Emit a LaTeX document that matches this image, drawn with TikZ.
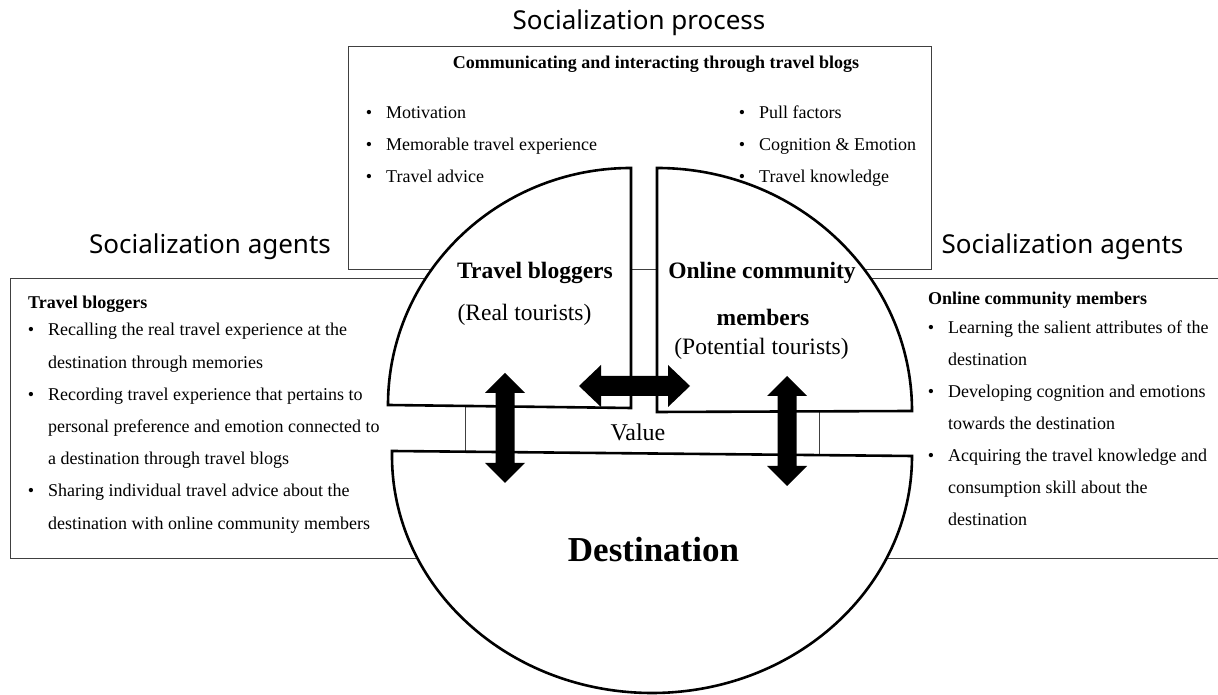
\documentclass[tikz,border=0pt]{standalone}
\usepackage{fontspec}
\setmainfont{Liberation Serif}
\newfontfamily\headfont{Noto Sans}
\begin{document}
\begin{tikzpicture}[x=1pt,y=1pt,
  box/.style={draw=black!75, line width=1pt},
  part/.style={draw=black, line width=2.6pt, fill=white, line join=miter},
  head/.style={font=\headfont\fontsize{26}{30}\selectfont, inner sep=0},
  body/.style={font=\fontsize{18}{22}\selectfont, inner sep=0, anchor=base west},
  bodyb/.style={font=\bfseries\fontsize{18}{22}\selectfont, inner sep=0, anchor=base west},
  bul/.style={font=\fontsize{18}{22}\selectfont, inner sep=0, anchor=base},
  big/.style={font=\fontsize{23.5}{28}\selectfont, inner sep=0},
  bigb/.style={font=\bfseries\fontsize{23.5}{28}\selectfont, inner sep=0},
  blockarrow/.style={fill=black}]
\useasboundingbox (0,0) rectangle (1218,695);
\fill[white] (0,0) rectangle (1218,695);

% boxes
\draw[box] (348,648) rectangle (931,425);
\draw[box] (10,416) rectangle (465,136);
\draw[box] (1218,416) -- (819,416) -- (819,136) -- (1218,136);

% circle parts
\draw[part] (631,287) -- (388,290) arc[start angle=180, end angle=90, x radius=243pt, y radius=237pt] -- cycle;
\draw[part] (657,527) -- (657,283) -- (912,284) arc[start angle=0, end angle=90, x radius=255pt, y radius=243pt] -- cycle;
\draw[part] (392,244) -- (912,239) arc[start angle=0, end angle=-180, x radius=260pt, y radius=237pt] -- cycle;

% block arrows
\fill[blockarrow] (505,322) -- (525,302) -- (514.5,302) -- (514.5,232) -- (525,232) -- (505,212) -- (485,232) -- (495.5,232) -- (495.5,302) -- (485,302) -- cycle;
\fill[blockarrow] (787,319) -- (807,299) -- (796.5,299) -- (796.5,229) -- (807,229) -- (787,209) -- (767,229) -- (777.5,229) -- (777.5,299) -- (767,299) -- cycle;
\fill[blockarrow] (579,309) -- (601,330) -- (601,319) -- (668,319) -- (668,330) -- (690,309) -- (668,288) -- (668,299) -- (601,299) -- (601,288) -- cycle;

% headings
\node[head] (tproc) at (639,672) {Socialization process};
\node[head] (lag) at (210,448) {Socialization agents};
\node[head] (rag) at (1062.5,448) {Socialization agents};
\node[font=\bfseries\fontsize{18}{22}\selectfont, inner sep=0, anchor=base] (comm) at (656,626) {Communicating and interacting through travel blogs};

% top box bullets
\foreach \t [count=\i] in {Motivation, Memorable travel experience, Travel advice} {
  \node[bul] (pbl\i) at (369,608-32*\i) {\textbullet};
  \node[body] (pl\i) at (386,608-32*\i) {\t};
}
\foreach \t [count=\i] in {Pull factors, Cognition \& Emotion, Travel knowledge} {
  \node[bul] (pbr\i) at (742,608-32*\i) {\textbullet};
  \node[body] (pr\i) at (759,608-32*\i) {\t};
}

% left box
\node[bodyb] (lbh) at (28,386) {Travel bloggers};
\foreach \t [count=\i] in {Recalling the real travel experience at the,
  destination through memories,
  Recording travel experience that pertains to,
  personal preference and emotion connected to,
  a destination through travel blogs,
  Sharing individual travel advice about the,
  destination with online community members} {
  \node[body] (ll\i) at (48,391.2-32.2*\i) {\t};
}
\foreach \i in {1,3,6} {
  \node[bul] (lb\i) at (31,391.2-32.2*\i) {\textbullet};
}

% right box
\node[bodyb] (rbh) at (928,390) {Online community members};
\foreach \t [count=\i] in {Learning the salient attributes of the,
  destination,
  Developing cognition and emotions,
  towards the destination,
  Acquiring the travel knowledge and,
  consumption skill about the,
  destination} {
  \node[body] (rl\i) at (948,393-32*\i) {\t};
}
\foreach \i in {1,3,5} {
  \node[bul] (rb\i) at (931,393-32*\i) {\textbullet};
}

% circle texts
\node[bigb] (tb) at (535,422) {Travel bloggers};
\node[big] (rt) at (524.5,380) {(Real tourists)};
\node[bigb] (oc) at (762,422) {Online community};
\node[bigb] (mem) at (763,378) {members};
\node[big] (pt) at (761.5,346) {(Potential tourists)};
\node[font=\fontsize{24}{28}\selectfont, inner sep=0] (val) at (638,263) {Value};
\node[font=\bfseries\fontsize{35}{40}\selectfont, inner sep=0] (dest) at (653.5,145) {Destination};
\end{tikzpicture}
\end{document}
